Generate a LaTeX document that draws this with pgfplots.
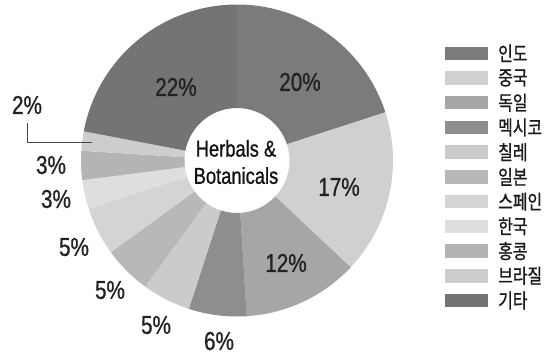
\documentclass[border=0pt]{standalone}
\usepackage{pgfplots}
\pgfplotsset{compat=1.18}
\usepackage{pgfplotstable}
\usepackage{fontspec}
\setmainfont{Liberation Sans}[FakeStretch=0.8, FakeBold=0.8]
\newfontfamily\kr{Noto Sans CJK KR}[FakeStretch=0.8, FakeBold=1]
\newcommand\pctfont{\fontsize{26}{30}\selectfont\color[HTML]{222222}}
\newcommand\legfont{\kr\fontsize{20}{23}\selectfont\color[HTML]{1A1A1A}}
\newcommand\centerfont{\fontsize{23}{27.3}\selectfont\color[HTML]{111111}}

\pgfplotstableread{
name value gray lx ly
인도 20 123 300 273
중국 17 208 339 168
독일 12 166 286 92
멕시코 6 142 219 14
칠레 5 203 156 30
일본 5 184 110 65
스페인 5 212 74 108
한국 3 222 56 156
홍콩 3 180 51 190
브라질 2 205 27 250
기타 22 116 176 268
}\slices

\begin{document}
\begin{tikzpicture}
\begin{axis}[x=1bp, y=1bp, xmin=0, xmax=549, ymin=0, ymax=355,
  hide axis, clip=false, enlargelimits=false]
\path (axis cs:0,0) rectangle (axis cs:549,355);
\def\cx{237}\def\cy{194.5}
\def\Rout{156}\def\Rin{52.5}
\gdef\cum{0}
\pgfplotstablegetrowsof{\slices}
\pgfmathtruncatemacro\N{\pgfplotsretval-1}
\foreach \i in {0,...,\N}{%
  \pgfplotstablegetelem{\i}{value}\of\slices \let\val\pgfplotsretval
  \pgfplotstablegetelem{\i}{gray}\of\slices \let\gv\pgfplotsretval
  \pgfplotstablegetelem{\i}{lx}\of\slices \let\lx\pgfplotsretval
  \pgfplotstablegetelem{\i}{ly}\of\slices \let\ly\pgfplotsretval
  \pgfplotstablegetelem{\i}{name}\of\slices \let\nm\pgfplotsretval
  \pgfmathsetmacro\aA{90-3.6*\cum}%
  \pgfmathsetmacro\aB{90-3.6*(\cum+\val)}%
  \pgfmathsetmacro\xA{\cx+\Rout*cos(\aA)}%
  \pgfmathsetmacro\yA{\cy+\Rout*sin(\aA)}%
  \pgfmathsetmacro\xB{\cx+\Rin*cos(\aB)}%
  \pgfmathsetmacro\yB{\cy+\Rin*sin(\aB)}%
  \pgfmathsetmacro\sy{301.7-24.72*\i}%
  \pgfmathsetmacro\syA{\sy-6.75}%
  \pgfmathsetmacro\syB{\sy+6.75}%
  \edef\temp{%
    \noexpand\fill[fill={rgb,255:red,\gv;green,\gv;blue,\gv}]
      (axis cs:\xA,\yA) arc[start angle=\aA, end angle=\aB, radius=\Rout bp]
      -- (axis cs:\xB,\yB) arc[start angle=\aB, end angle=\aA, radius=\Rin bp] -- cycle;
    \noexpand\node[font=\noexpand\pctfont, inner sep=0pt] at (axis cs:\lx,\ly) {\val\noexpand\%};
    \noexpand\fill[fill={rgb,255:red,\gv;green,\gv;blue,\gv}]
      (axis cs:445,\syA) rectangle (axis cs:488,\syB);
    \noexpand\node[anchor=west, inner sep=0pt, font=\noexpand\legfont] at (axis cs:498,\sy) {\nm};
  }%
  \temp
  \pgfmathsetmacro\newcum{\cum+\val}%
  \xdef\cum{\newcum}%
}
\draw[line width=0.9bp, color={rgb,255:red,70;green,70;blue,70}]
  (axis cs:27,232) -- (axis cs:27,213) -- (axis cs:92,213);
\node[align=center, font=\centerfont, inner sep=0pt] at (axis cs:236,193) {Herbals \&\\Botanicals};
\end{axis}
\end{tikzpicture}
\end{document}
